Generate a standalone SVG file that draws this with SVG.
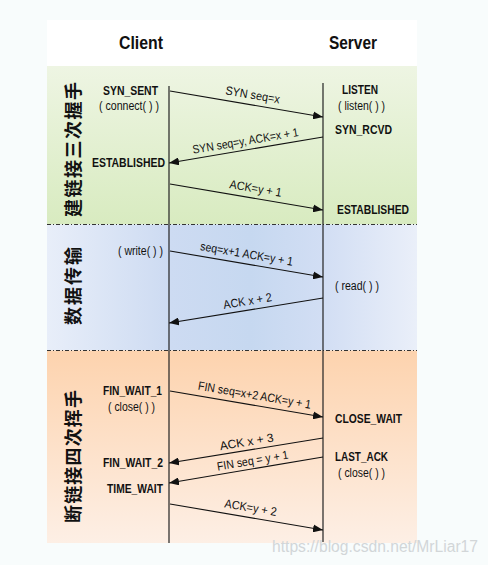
<svg xmlns="http://www.w3.org/2000/svg" width="488" height="565" viewBox="0 0 488 565">
<defs>
<style>
.t{font-family:"Liberation Sans",Arial,sans-serif;font-size:12px;fill:#111}
.b{font-weight:bold;font-size:13px}
.h{font-weight:bold;font-size:18px;fill:#111}
.cn{font-family:"Noto Sans CJK SC","Noto Sans",sans-serif;font-size:18px;font-weight:bold;fill:#111}
.life{stroke:#222;stroke-width:1.2}
.dash{stroke:#333;stroke-width:1;stroke-dasharray:4 2 1 2;fill:none}
.msg{stroke:#111;stroke-width:1.1;fill:none;marker-end:url(#ah)}
.wm{font-family:"Liberation Sans",Arial,sans-serif;font-size:16px;fill:#d2d6d8}
.lb{font-family:"Liberation Sans",Arial,sans-serif;font-size:12px;fill:#111;text-anchor:middle}
</style>
<marker id="ah" viewBox="0 0 10 8" refX="10" refY="4" markerWidth="10" markerHeight="8" markerUnits="userSpaceOnUse" orient="auto">
<path d="M0,0 L10,4 L0,8 Z" fill="#111"/>
</marker>
<linearGradient id="gG" x1="0" y1="0" x2="0" y2="1">
<stop offset="0" stop-color="#eef5e3"/>
<stop offset="1" stop-color="#d8ebc0"/>
</linearGradient>
<linearGradient id="gB" x1="0" y1="0" x2="1" y2="0">
<stop offset="0" stop-color="#e8eef9"/>
<stop offset="0.33" stop-color="#cddbf2"/>
<stop offset="0.55" stop-color="#c6d8f0"/>
<stop offset="0.75" stop-color="#d2def4"/>
<stop offset="1" stop-color="#eaeff9"/>
</linearGradient>
<linearGradient id="gO" x1="0" y1="0" x2="0" y2="1">
<stop offset="0" stop-color="#fdd3ae"/>
<stop offset="1" stop-color="#fdefe5"/>
</linearGradient>
</defs>

<rect width="488" height="565" fill="#f8fcfc"/>
<rect x="47" y="20" width="370" height="46" fill="#ffffff"/>

<g id="phase-handshake">
<rect x="47" y="66" width="370" height="158.5" fill="url(#gG)"/>
<text class="cn" transform="translate(71.5,149.5) rotate(-90)" text-anchor="middle" dominant-baseline="central" textLength="135" lengthAdjust="spacing">建链接三次握手</text>
</g>
<g id="phase-data">
<rect x="47" y="224.5" width="370" height="126" fill="url(#gB)"/>
<text class="cn" transform="translate(71.5,286) rotate(-90)" text-anchor="middle" dominant-baseline="central" textLength="78" lengthAdjust="spacing">数据传输</text>
</g>
<g id="phase-close">
<rect x="47" y="350.5" width="370" height="192.5" fill="url(#gO)"/>
<text class="cn" transform="translate(71.5,456.5) rotate(-90)" text-anchor="middle" dominant-baseline="central" textLength="133" lengthAdjust="spacing">断链接四次挥手</text>
</g>

<g id="separators">
<line class="dash" x1="47" y1="224.5" x2="417" y2="224.5"/>
<line class="dash" x1="47" y1="350.5" x2="417" y2="350.5"/>
</g>

<g id="client">
<text class="t h" x="119" y="49" textLength="44" lengthAdjust="spacingAndGlyphs">Client</text>
<line class="life" x1="169" y1="86" x2="169" y2="543"/>
<text class="t b" x="103" y="95" textLength="55" lengthAdjust="spacingAndGlyphs">SYN_SENT</text>
<text class="t" x="99" y="110" textLength="60" lengthAdjust="spacingAndGlyphs">( connect( ) )</text>
<text class="t b" x="92" y="167" textLength="73" lengthAdjust="spacingAndGlyphs">ESTABLISHED</text>
<text class="t" x="118" y="255" textLength="45" lengthAdjust="spacingAndGlyphs">( write( ) )</text>
<text class="t b" x="103" y="395" textLength="59" lengthAdjust="spacingAndGlyphs">FIN_WAIT_1</text>
<text class="t" x="108" y="411" textLength="47" lengthAdjust="spacingAndGlyphs">( close( ) )</text>
<text class="t b" x="103" y="467" textLength="60" lengthAdjust="spacingAndGlyphs">FIN_WAIT_2</text>
<text class="t b" x="107" y="493" textLength="56" lengthAdjust="spacingAndGlyphs">TIME_WAIT</text>
</g>

<g id="server">
<text class="t h" x="329" y="49" textLength="48" lengthAdjust="spacingAndGlyphs">Server</text>
<line class="life" x1="323" y1="83" x2="323" y2="542"/>
<text class="t b" x="342" y="94" textLength="36" lengthAdjust="spacingAndGlyphs">LISTEN</text>
<text class="t" x="338" y="110" textLength="47" lengthAdjust="spacingAndGlyphs">( listen( ) )</text>
<text class="t b" x="335" y="134" textLength="57" lengthAdjust="spacingAndGlyphs">SYN_RCVD</text>
<text class="t b" x="337" y="214" textLength="72" lengthAdjust="spacingAndGlyphs">ESTABLISHED</text>
<text class="t" x="335" y="290" textLength="44" lengthAdjust="spacingAndGlyphs">( read( ) )</text>
<text class="t b" x="335" y="423" textLength="67" lengthAdjust="spacingAndGlyphs">CLOSE_WAIT</text>
<text class="t b" x="335" y="461" textLength="53" lengthAdjust="spacingAndGlyphs">LAST_ACK</text>
<text class="t" x="338" y="477" textLength="47" lengthAdjust="spacingAndGlyphs">( close( ) )</text>
</g>

<g id="connectors">
<line class="msg" x1="170" y1="91" x2="323" y2="117"/>
<line class="msg" x1="323" y1="137" x2="169" y2="163"/>
<line class="msg" x1="170" y1="184" x2="323" y2="210"/>
<line class="msg" x1="170" y1="251" x2="323" y2="277"/>
<line class="msg" x1="323" y1="298" x2="169" y2="323"/>
<line class="msg" x1="170" y1="391" x2="323" y2="417"/>
<line class="msg" x1="323" y1="438" x2="169" y2="463"/>
<line class="msg" x1="323" y1="457" x2="169" y2="483"/>
<line class="msg" x1="170" y1="504" x2="323" y2="530"/>

<text class="lb" transform="translate(251,104.8) rotate(9.6) scale(0.91,1)" x="0" y="-6">SYN seq=x</text>
<text class="lb" transform="translate(247,149.8) rotate(-9.6) scale(0.87,1)" x="0" y="-5">SYN seq=y, ACK=x + 1</text>
<text class="lb" transform="translate(254,198.4) rotate(9.6) scale(0.91,1)" x="0" y="-6">ACK=y + 1</text>
<text class="lb" transform="translate(245,263.8) rotate(9.6) scale(0.88,1)" x="0" y="-6">seq=x+1 ACK=y + 1</text>
<text class="lb" transform="translate(249,310) rotate(-9.3) scale(0.9,1)" x="0" y="-5">ACK x + 2</text>
<text class="lb" transform="translate(253,405) rotate(9.6) scale(0.885,1)" x="0" y="-6">FIN seq=x+2 ACK=y + 1</text>
<text class="lb" transform="translate(248,450.7) rotate(-9.3)" x="0" y="-5">ACK x + 3</text>
<text class="lb" transform="translate(254,468.6) rotate(-9.6) scale(0.88,1)" x="0" y="-4">FIN seq = y + 1</text>
<text class="lb" transform="translate(249,517.5) rotate(9.6) scale(0.91,1)" x="0" y="-6">ACK=y + 2</text>
</g>

<text class="wm" x="272" y="552" textLength="206" lengthAdjust="spacingAndGlyphs">https://blog.csdn.net/MrLiar17</text>
</svg>
